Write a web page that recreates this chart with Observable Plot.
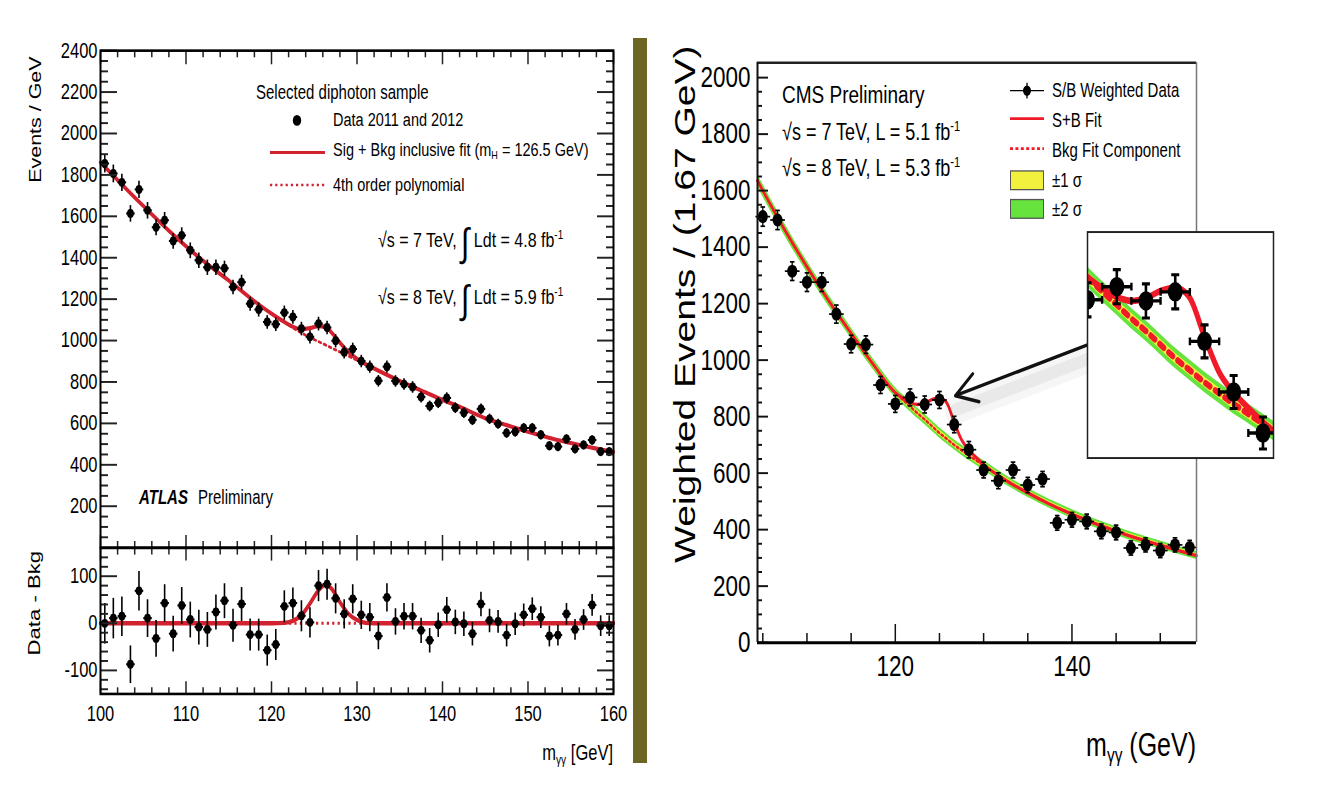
<!DOCTYPE html>
<html>
<head>
<meta charset="utf-8">
<script src="https://cdn.jsdelivr.net/npm/d3@7"></script>
<script src="https://cdn.jsdelivr.net/npm/@observablehq/plot@0.6"></script>
<style>
  html, body { margin:0; padding:0; background:#fff; }
  #page { position:relative; width:1324px; height:790px; overflow:hidden; background:#fff; }
  #wrap { position:absolute; left:0; top:0; width:1324px; height:607.69px; transform:scaleY(1.3); transform-origin:0 0;
          font-family:"Liberation Sans", Arial, Helvetica, sans-serif; color:#000; }
  .box { position:absolute; }
  .box svg { display:block; max-width:none; }
  .lab { position:absolute; white-space:nowrap; line-height:1; }
  .lab sub { font-size:0.62em; vertical-align:-0.3em; line-height:0; }
  .lab sup { font-size:0.62em; vertical-align:0.62em; line-height:0; }
  .big { font-size:1.9em; vertical-align:-0.22em; line-height:0; }
</style>
</head>
<body>
<div id="page"><div id="wrap"></div></div>
<script>
const S = 1.3;                       // vertical stretch of the reference picture
const FONT = '"Liberation Sans", Arial, Helvetica, sans-serif';
const RED_A = "#d2222f", RED_C = "#f01a28", GREEN = "#66e33c", YELLOW = "#f2f23e";

// ---------------- ATLAS (left) ----------------
const atlasMass = [100.5,101.5,102.5,103.5,104.5,105.5,106.5,107.5,108.5,109.5,
  110.5,111.5,112.5,113.5,114.5,115.5,116.5,117.5,118.5,119.5,
  120.5,121.5,122.5,123.5,124.5,125.5,126.5,127.5,128.5,129.5,
  130.5,131.5,132.5,133.5,134.5,135.5,136.5,137.5,138.5,139.5,
  140.5,141.5,142.5,143.5,144.5,145.5,146.5,147.5,148.5,149.5,
  150.5,151.5,152.5,153.5,154.5,155.5,156.5,157.5,158.5,159.5];
const atlasEvents = [1855,1807,1764,1614,1730,1629,1547,1581,1481,1508,
  1436,1388,1354,1354,1349,1259,1282,1178,1150,1090,
  1079,1135,1114,1058,1018,1082,1063,999,944,959,
  901,874,806,874,805,790,776,728,684,700,
  723,676,652,617,670,622,598,554,560,578,
  578,545,492,488,525,477,496,520,464,464];
const atlasErr = [43,43,42,40,42,40,39,40,38,39,
  38,37,37,37,37,35,36,34,34,33,
  33,34,33,33,32,33,33,32,31,31,
  30,30,28,30,28,28,28,27,26,26,
  27,26,26,25,26,25,24,24,24,24,
  24,23,22,22,23,22,22,23,22,22];
const atlasResid = [0,11,15,-87,69,11,-32,43,-22,38,
  8,-8,-13,24,48,-4,41,-24,-24,-57,
  -45,36,43,16,2,80,83,53,20,52,
  18,13,-27,55,4,15,15,-15,-36,-3,
  29,3,-1,-22,41,6,4,-25,-1,18,
  31,13,-27,-25,20,-13,8,39,-5,-5];
const atlasFitX = [100,102,105,108,110,112,115,118,120,121.5,122.5,123.5,124.5,125.5,126.3,127,128,129,130,131,132,135,138,140,142,145,148,150,153,155,158,160];
const atlasBkg  = [1860,1775,1650,1530,1455,1385,1290,1190,1130,1089,1062,1037,1015,995,979,965,945,925,905,885,865,805,750,713,680,625,585,560,525,505,478,462];
const atlasSB   = [1860,1775,1650,1530,1455,1385,1290,1190,1130,1090,1067,1055,1060,1070,1066,1040,990,945,912,886,865,805,750,713,680,625,585,560,525,505,478,462];
const atlasSigX = [100,120,121.5,122.5,123.5,124.5,125.5,126.3,127,128,129,130,131,132,160];
const atlasSigY = [0,0,1,5,17,42,70,82,74,45,20,7,1,0,0];
const atlasXMajor = [100,110,120,130,140,150,160];
const atlasYMajor = [200,400,600,800,1000,1200,1400,1600,1800,2000,2200,2400];
const residYMajor = [-100,0,100];

// ---------------- CMS (right) ----------------
const cmsMass = [105,106.67,108.33,110,111.67,113.33,115,116.67,118.33,120,
  121.67,123.33,125,126.67,128.33,130,131.67,133.33,135,136.67,
  138.33,140,141.67,143.33,145,146.67,148.33,150,151.67,153.33];
const cmsEvents = [1508,1496,1315,1276,1276,1163,1057,1055,912,845,
  868,843,859,772,683,611,573,611,558,579,
  424,435,429,394,390,335,346,326,346,337];
const cmsErr = [34,34,33,33,33,32,31,31,30,30,
  30,30,30,29,29,28,28,28,27,27,
  26,26,26,26,26,25,25,25,25,25];
const cmsHalfBin = 0.833;
const cmsFitX = [104.4,105,107.5,110,112.5,115,117.5,120,121,121.67,122.5,123.33,124.2,125,125.8,126.67,127.5,128.33,129,130,132.5,135,137.5,140,142.5,145,147.5,150,152.5,154.1];
const cmsBkg  = [1635,1600,1460,1330,1208,1095,985,885,855,836,812,790,765,742,722,700,681,662,648,627,575,530,490,455,423,395,368,345,322,308];
const cmsSB   = [1635,1600,1460,1330,1208,1095,985,885,862,850,843,848,861,866,850,780,718,682,660,630,575,530,490,455,423,395,368,345,322,308];
const cmsBand1 = [11,11,10,10,10,10,10,9,9,9,9,9,9,9,9,9,9,9,9,9,9,8,8,8,8,8,8,7,7,7];
const cmsBand2 = [22,22,21,20,20,19,19,18,18,18,18,18,18,18,18,18,18,18,17,17,17,16,16,16,15,15,15,14,14,14];
const cmsXMajor = [120,140];
const cmsXMinor = [105,110,115,125,130,135,145,150];
const cmsYMajor = [0,200,400,600,800,1000,1200,1400,1600,1800,2000];
const arrowSpec = [{x1:142.5, y1:1063, x2:126.8, y2:874}];

// ---------------- helpers ----------------
const wrap = document.getElementById("wrap");
function mount(node, left, topPage, width) {
  const d = document.createElement("div");
  d.className = "box";
  d.style.left = left + "px";
  d.style.top = (topPage / S) + "px";
  d.style.width = width + "px";
  d.appendChild(node);
  wrap.appendChild(d);
  return d;
}
function label(html, x, yPage, size, opt = {}) {
  const d = document.createElement("div");
  d.className = "lab";
  d.innerHTML = html;
  d.style.left = x + "px";
  d.style.top = (yPage / S) + "px";
  d.style.fontSize = size + "px";
  if (opt.weight) d.style.fontWeight = opt.weight;
  if (opt.italic) d.style.fontStyle = "italic";
  d.style.transform = opt.rotate ? "translate(-50%,-50%) rotate(-90deg)"
    : opt.align === "right" ? "translate(-100%,-50%)" : "translateY(-50%)";
  wrap.appendChild(d);
}
function swatch(x0, x1, cyPage, hPage, inner) {
  const w = x1 - x0, h = hPage / S;
  const d = document.createElement("div");
  d.className = "box";
  d.style.left = x0 + "px";
  d.style.top = ((cyPage - hPage / 2) / S) + "px";
  d.innerHTML = `<svg width="${w}" height="${h}" viewBox="0 0 ${w} ${h}" style="overflow:visible">${inner(w, h)}</svg>`;
  wrap.appendChild(d);
}
function ticks(dim, anchor, values, lenPage, o = {}) {
  const len = dim === "x" ? lenPage / S : lenPage;
  const key = "inset" + anchor[0].toUpperCase() + anchor.slice(1);
  const f = dim === "x" ? Plot.axisX : Plot.axisY;
  return f(values, {
    anchor, tickSize: len, [key]: len,
    tickPadding: o.pad ?? 3,
    tickFormat: o.labels ? (d => String(d)) : (() => ""),
    stroke: o.stroke ?? "#222", strokeWidth: o.sw ?? 1.5,
    fill: "#000", fontSize: o.fontSize ?? 16, label: null
  });
}
const hCap = {draw(ctx, size) { const r = Math.sqrt(size / Math.PI); ctx.moveTo(-r, 0); ctx.lineTo(r, 0); }};
const vCap = {draw(ctx, size) { const r = Math.sqrt(size / Math.PI); ctx.moveTo(0, -r); ctx.lineTo(0, r); }};
const baseStyle = {background: "transparent", fontFamily: FONT, maxWidth: "none", overflow: "visible", color: "#000"};

// ---------------- ATLAS panels ----------------
const atlasPts = atlasMass.map((m, i) => ({m, v: atlasEvents[i], e: atlasErr[i], r: atlasResid[i]}));
const atlasFit = atlasFitX.map((m, i) => ({m, b: atlasBkg[i], sb: atlasSB[i]}));
const atlasSig = atlasSigX.map((m, i) => ({m, s: atlasSigY[i]}));
const atlasXMinor = d3.range(102, 160, 2).filter(v => v % 10);
const atlasYMinor = d3.range(50, 2400, 50).filter(v => v % 200);
const residYMinor = d3.range(-140, 160, 20).filter(v => v % 100);

const atlasMain = Plot.plot({
  width: 640, height: 547 / S,
  marginLeft: 100, marginRight: 27, marginTop: 50 / S, marginBottom: 0,
  x: {domain: [100, 160]}, y: {domain: [0, 2400]},
  style: baseStyle,
  marks: [
    Plot.line(atlasFit, {x: "m", y: "b", stroke: RED_A, strokeWidth: 2.2, strokeDasharray: "2.2,3.2", curve: "monotone-x"}),
    Plot.line(atlasFit, {x: "m", y: "sb", stroke: RED_A, strokeWidth: 3.2, curve: "monotone-x"}),
    Plot.link(atlasPts, {x1: "m", x2: "m", y1: d => d.v - d.e, y2: d => d.v + d.e, stroke: "#000", strokeWidth: 1.6}),
    Plot.link(atlasPts, {x1: d => d.m - 0.5, x2: d => d.m + 0.5, y1: "v", y2: "v", stroke: "#000", strokeWidth: 1.6}),
    Plot.dot(atlasPts, {x: "m", y: "v", r: 3.4, fill: "#000"}),
    ticks("y", "left", atlasYMajor, 17, {labels: true, pad: 3, fontSize: 16.5}),
    ticks("y", "left", atlasYMinor, 8),
    ticks("y", "right", atlasYMajor, 17),
    ticks("y", "right", atlasYMinor, 8),
    ticks("x", "top", atlasXMajor, 13),
    ticks("x", "top", atlasXMinor, 6),
    ticks("x", "bottom", atlasXMajor, 12),
    ticks("x", "bottom", atlasXMinor, 6),
    Plot.frame({stroke: "#000", strokeWidth: 2})
  ]
});
mount(atlasMain, 0, 0, 640);

const atlasRes = Plot.plot({
  width: 640, height: 243 / S,
  marginLeft: 100, marginRight: 27, marginTop: 0, marginBottom: 97 / S,
  x: {domain: [100, 160]}, y: {domain: [-150, 160]},
  style: baseStyle,
  marks: [
    Plot.ruleY([0], {stroke: RED_A, strokeWidth: 2.2, strokeDasharray: "2.2,3.2"}),
    Plot.line(atlasSig, {x: "m", y: "s", stroke: RED_A, strokeWidth: 3.4, curve: "monotone-x"}),
    Plot.link(atlasPts, {x1: "m", x2: "m", y1: d => d.r - d.e, y2: d => d.r + d.e, stroke: "#000", strokeWidth: 1.6}),
    Plot.link(atlasPts, {x1: d => d.m - 0.5, x2: d => d.m + 0.5, y1: "r", y2: "r", stroke: "#000", strokeWidth: 1.6}),
    Plot.dot(atlasPts, {x: "m", y: "r", r: 3.4, fill: "#000"}),
    ticks("y", "left", residYMajor, 17, {labels: true, pad: 3, fontSize: 16.5}),
    ticks("y", "left", residYMinor, 8),
    ticks("y", "right", residYMajor, 17),
    ticks("y", "right", residYMinor, 8),
    ticks("x", "top", atlasXMajor, 12),
    ticks("x", "top", atlasXMinor, 6),
    ticks("x", "bottom", atlasXMajor, 12, {labels: true, pad: 9, fontSize: 16.5}),
    ticks("x", "bottom", atlasXMinor, 6),
    Plot.frame({stroke: "#000", strokeWidth: 2})
  ]
});
mount(atlasRes, 0, 547, 640);

// ATLAS texts
label("Events / GeV", 35, 120, 16.5, {rotate: true});
label("Data - Bkg", 34, 603, 17, {rotate: true});
label("m<sub>γγ</sub> [GeV]", 613, 753, 16.5, {align: "right"});
label("Selected diphoton sample", 256, 92, 15);
swatch(290, 304, 120, 12, (w, h) => `<ellipse cx="${w/2}" cy="${h/2}" rx="4.2" ry="4.2" fill="#000"/>`);
label("Data 2011 and 2012", 333, 120, 14.5);
swatch(270, 325, 152, 6, (w, h) => `<line x1="0" x2="${w}" y1="${h/2}" y2="${h/2}" stroke="${RED_A}" stroke-width="2.4"/>`);
label("Sig + Bkg inclusive fit (m<sub>H</sub> = 126.5 GeV)", 333, 150, 14.5);
swatch(270, 325, 185, 6, (w, h) => `<line x1="0" x2="${w}" y1="${h/2}" y2="${h/2}" stroke="${RED_A}" stroke-width="2" stroke-dasharray="2.2,3"/>`);
label("4th order polynomial", 333, 185, 14.5);
label('√s = 7 TeV, <span class="big">∫</span> Ldt = 4.8 fb<sup>-1</sup>', 378, 240, 16);
label('√s = 8 TeV, <span class="big">∫</span> Ldt = 5.9 fb<sup>-1</sup>', 378, 298, 16);
label("ATLAS", 139, 497, 15, {weight: "bold", italic: true});
label("Preliminary", 198, 497, 15);

// ---------------- CMS main ----------------
const cmsPts = cmsMass.map((m, i) => ({m, v: cmsEvents[i], e: cmsErr[i]}));
const cmsFit = cmsFitX.map((m, i) => ({m, b: cmsBkg[i], sb: cmsSB[i], w1: cmsBand1[i], w2: cmsBand2[i]}));
const CMS_X = [104.4, 154.1], CMS_Y = [0, 2053];
const cmsYMinor = d3.range(50, 2050, 50).filter(v => v % 200);

const cmsMain = Plot.plot({
  width: 674, height: 790 / S,
  marginLeft: 107, marginRight: 128, marginTop: 62 / S, marginBottom: 148 / S,
  x: {domain: CMS_X}, y: {domain: CMS_Y},
  style: baseStyle,
  marks: [
    Plot.areaY(cmsFit, {x: "m", y1: d => d.b - d.w2, y2: d => d.b + d.w2, fill: GREEN, curve: "monotone-x"}),
    Plot.areaY(cmsFit, {x: "m", y1: d => d.b - d.w1, y2: d => d.b + d.w1, fill: YELLOW, curve: "monotone-x"}),
    Plot.line(cmsFit, {x: "m", y: "b", stroke: RED_C, strokeWidth: 2, strokeDasharray: "2,2.5", curve: "monotone-x"}),
    Plot.line(cmsFit, {x: "m", y: "sb", stroke: RED_C, strokeWidth: 2.6, curve: "monotone-x"}),
    Plot.link(arrowSpec, {x1: "x1", y1: "y1", x2: "x2", y2: "y2", stroke: "#000", strokeOpacity: 0.035, strokeWidth: 22, dy: 11, strokeLinecap: "round"}),
    Plot.link(arrowSpec, {x1: "x1", y1: "y1", x2: "x2", y2: "y2", stroke: "#000", strokeOpacity: 0.05, strokeWidth: 10, dy: 11, strokeLinecap: "round"}),
    Plot.arrow(arrowSpec, {x1: "x1", y1: "y1", x2: "x2", y2: "y2", stroke: "#111", strokeWidth: 2.6, headLength: 14, headAngle: 55}),
    Plot.link(cmsPts, {x1: "m", x2: "m", y1: d => d.v - d.e, y2: d => d.v + d.e, stroke: "#000", strokeWidth: 1.3}),
    Plot.link(cmsPts, {x1: d => d.m - cmsHalfBin, x2: d => d.m + cmsHalfBin, y1: "v", y2: "v", stroke: "#000", strokeWidth: 1.3}),
    Plot.dot(cmsPts, {x: "m", y: d => d.v + d.e, symbol: hCap, r: 2.3, stroke: "#000", strokeWidth: 1.3}),
    Plot.dot(cmsPts, {x: "m", y: d => d.v - d.e, symbol: hCap, r: 2.3, stroke: "#000", strokeWidth: 1.3}),
    Plot.dot(cmsPts, {x: "m", y: "v", r: 5, fill: "#000"}),
    ticks("y", "left", cmsYMajor, 11, {labels: true, pad: 7, fontSize: 22.5, stroke: "#111"}),
    ticks("y", "left", cmsYMinor, 5, {stroke: "#111"}),
    ticks("x", "bottom", cmsXMajor, 18, {labels: true, pad: 10, fontSize: 22.5, stroke: "#111"}),
    ticks("x", "bottom", cmsXMinor, 9, {stroke: "#111"}),
    Plot.ruleY([CMS_Y[1]], {stroke: "#222", strokeWidth: 2.5 / S}),
    Plot.ruleX([CMS_X[1]], {stroke: "#777", strokeWidth: 1.5}),
    Plot.ruleX([CMS_X[0]], {stroke: "#111", strokeWidth: 2}),
    Plot.ruleY([CMS_Y[0]], {stroke: "#000", strokeWidth: 3 / S})
  ]
});
mount(cmsMain, 650, 0, 674);

// ---------------- CMS inset ----------------
const inset = Plot.plot({
  width: 190, height: 226 / S + 4, margin: 2,
  x: {domain: [120, 130.6], axis: null}, y: {domain: [567, 964], axis: null},
  style: baseStyle,
  marks: [
    Plot.frame({fill: "#fff"}),
    Plot.areaY(cmsFit, {x: "m", y1: d => d.b - d.w2, y2: d => d.b + d.w2, fill: GREEN, curve: "monotone-x", clip: true}),
    Plot.areaY(cmsFit, {x: "m", y1: d => d.b - d.w1, y2: d => d.b + d.w1, fill: YELLOW, curve: "monotone-x", clip: true}),
    Plot.line(cmsFit, {x: "m", y: "b", stroke: RED_C, strokeWidth: 5, strokeDasharray: "5,6", curve: "monotone-x", clip: true}),
    Plot.line(cmsFit, {x: "m", y: "sb", stroke: RED_C, strokeWidth: 5, curve: "monotone-x", clip: true}),
    Plot.link(cmsPts, {x1: "m", x2: "m", y1: d => d.v - d.e, y2: d => d.v + d.e, stroke: "#000", strokeWidth: 2.6, clip: true}),
    Plot.link(cmsPts, {x1: d => d.m - cmsHalfBin, x2: d => d.m + cmsHalfBin, y1: "v", y2: "v", stroke: "#000", strokeWidth: 2.6, clip: true}),
    Plot.dot(cmsPts, {x: "m", y: d => d.v + d.e, symbol: hCap, r: 4, stroke: "#000", strokeWidth: 2.4, clip: true}),
    Plot.dot(cmsPts, {x: "m", y: d => d.v - d.e, symbol: hCap, r: 4, stroke: "#000", strokeWidth: 2.4, clip: true}),
    Plot.dot(cmsPts, {x: d => d.m - cmsHalfBin, y: "v", symbol: vCap, r: 3, stroke: "#000", strokeWidth: 2.4, clip: true}),
    Plot.dot(cmsPts, {x: d => d.m + cmsHalfBin, y: "v", symbol: vCap, r: 3, stroke: "#000", strokeWidth: 2.4, clip: true}),
    Plot.dot(cmsPts, {x: "m", y: "v", r: 7.5, fill: "#000", clip: true}),
    Plot.frame({stroke: "#222", strokeWidth: 1.5})
  ]
});
mount(inset, 1085, 232 - 2 * S, 190);

// CMS texts and legend
label("Weighted Events / (1.67 GeV)", 685, 304, 30, {rotate: true});
label("m<sub>γγ</sub> (GeV)", 1196, 745, 25, {align: "right"});
label("CMS Preliminary", 782, 95, 19);
label("√s = 7 TeV, L = 5.1 fb<sup>-1</sup>", 782, 133, 18);
label("√s = 8 TeV, L = 5.3 fb<sup>-1</sup>", 782, 168, 18);
swatch(1010, 1044, 90, 20, (w, h) => `<line x1="0" x2="${w}" y1="${h/2}" y2="${h/2}" stroke="#000" stroke-width="1.1"/>
  <line x1="${w/2}" x2="${w/2}" y1="${h/2-6}" y2="${h/2+6}" stroke="#000" stroke-width="1.3"/>
  <circle cx="${w/2}" cy="${h/2}" r="4" fill="#000"/>`);
label("S/B Weighted Data", 1052, 90, 15);
swatch(1010, 1044, 119, 6, (w, h) => `<line x1="0" x2="${w}" y1="${h/2}" y2="${h/2}" stroke="${RED_C}" stroke-width="2.2"/>`);
label("S+B Fit", 1052, 119, 15);
swatch(1010, 1044, 149, 6, (w, h) => `<line x1="0" x2="${w}" y1="${h/2}" y2="${h/2}" stroke="${RED_C}" stroke-width="2.2" stroke-dasharray="3,2.4"/>`);
label("Bkg Fit Component", 1052, 149, 15);
swatch(1010, 1044, 180, 20, (w, h) => `<rect x="0.5" y="0.5" width="${w-1}" height="${h-1}" fill="${YELLOW}" stroke="#555" stroke-width="1"/>`);
label("±1 σ", 1052, 180, 15);
swatch(1010, 1044, 209, 20, (w, h) => `<rect x="0.5" y="0.5" width="${w-1}" height="${h-1}" fill="${GREEN}" stroke="#555" stroke-width="1"/>`);
label("±2 σ", 1052, 209, 15);

// olive separator bar
const bar = document.createElement("div");
Object.assign(bar.style, {position: "absolute", left: "633px", top: "38px", width: "14px", height: "725px", background: "#6d6524"});
document.getElementById("page").appendChild(bar);
</script>
</body>
</html>
